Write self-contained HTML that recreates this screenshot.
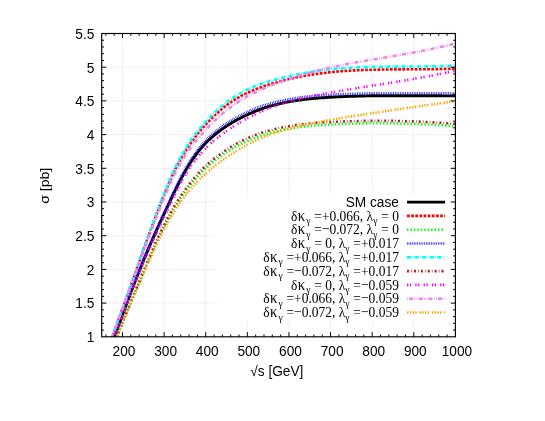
<!DOCTYPE html>
<html><head><meta charset="utf-8"><title>sigma vs sqrt(s)</title>
<style>html,body{margin:0;padding:0;background:#fff}svg{display:block;will-change:transform;filter:blur(0.35px)}text{font-family:"Liberation Sans",sans-serif;font-size:13.7px;fill:#000}.sy{font-family:"Liberation Serif",serif;font-size:13.5px}</style></head><body>
<svg width="545" height="421" viewBox="0 0 545 421">
<rect x="0" y="0" width="545" height="421" fill="#fff"/>
<defs><clipPath id="cp"><rect x="101.7" y="33.5" width="353.7" height="303.3"/></clipPath></defs>
<path d="M122.5,33.5 V336.8 M164.1,33.5 V336.8 M205.7,33.5 V336.8 M247.3,33.5 V336.8 M289.0,33.5 V336.8 M330.6,33.5 V336.8 M372.2,33.5 V336.8 M413.8,33.5 V336.8 M101.7,303.1 H455.4 M101.7,269.4 H455.4 M101.7,235.7 H455.4 M101.7,202.0 H455.4 M101.7,168.3 H455.4 M101.7,134.6 H455.4 M101.7,100.9 H455.4 M101.7,67.2 H455.4" fill="none" stroke="#a8a8a8" stroke-width="0.45" stroke-dasharray="0.69,1.38"/>
<rect x="217.5" y="195.2" width="234" height="124.6" fill="#fff"/>
<g clip-path="url(#cp)" fill="none" stroke-linejoin="round">
<path d="M101.7,373.9 L102.7,371.0 L103.7,368.2 L104.7,365.3 L105.7,362.5 L106.7,359.6 L107.7,356.8 L108.7,353.9 L109.7,351.1 L110.7,348.2 L111.7,345.4 L112.7,342.5 L113.7,339.7 L114.7,336.9 L115.6,334.0 L116.6,331.2 L117.6,328.4 L118.6,325.6 L119.6,322.8 L120.6,320.1 L121.6,317.3 L122.6,314.5 L123.6,311.8 L124.6,309.1 L125.6,306.4 L126.6,303.7 L127.6,301.0 L128.6,298.3 L129.6,295.7 L130.6,293.1 L131.6,290.5 L132.6,287.9 L133.6,285.3 L134.6,282.7 L135.6,280.2 L136.6,277.7 L137.6,275.1 L138.6,272.7 L139.6,270.2 L140.6,267.7 L141.6,265.3 L142.5,262.8 L143.5,260.4 L144.5,258.0 L145.5,255.6 L146.5,253.3 L147.5,250.9 L148.5,248.6 L149.5,246.3 L150.5,244.0 L151.5,241.7 L152.5,239.4 L153.5,237.1 L154.5,234.9 L155.5,232.7 L156.5,230.4 L157.5,228.2 L158.5,226.0 L159.5,223.9 L160.5,221.7 L161.5,219.5 L162.5,217.4 L163.5,215.2 L164.5,213.1 L165.5,211.0 L166.5,208.9 L167.5,206.7 L168.5,204.6 L169.5,202.5 L170.4,200.4 L171.4,198.3 L172.4,196.2 L173.4,194.1 L174.4,192.1 L175.4,190.0 L176.4,188.0 L177.4,186.0 L178.4,184.0 L179.4,182.0 L180.4,180.1 L181.4,178.1 L182.4,176.3 L183.4,174.4 L184.4,172.6 L185.4,170.9 L186.4,169.1 L187.4,167.5 L188.4,165.8 L189.4,164.2 L190.4,162.7 L191.4,161.2 L192.4,159.7 L193.4,158.2 L194.4,156.8 L195.4,155.5 L196.4,154.1 L197.3,152.8 L198.3,151.6 L199.3,150.3 L200.3,149.1 L201.3,147.9 L202.3,146.8 L203.3,145.7 L204.3,144.6 L205.3,143.5 L206.3,142.5 L207.3,141.5 L208.3,140.5 L209.3,139.6 L210.3,138.7 L211.3,137.7 L212.3,136.9 L213.3,136.0 L214.3,135.2 L215.3,134.3 L216.3,133.5 L217.3,132.7 L218.3,132.0 L219.3,131.2 L220.3,130.5 L221.3,129.8 L222.3,129.1 L223.3,128.4 L224.2,127.7 L225.2,127.0 L226.2,126.4 L227.2,125.7 L228.2,125.1 L229.2,124.4 L230.2,123.8 L231.2,123.2 L232.2,122.6 L233.2,122.0 L234.2,121.4 L235.2,120.9 L236.2,120.3 L237.2,119.8 L238.2,119.2 L239.2,118.7 L240.2,118.2 L241.2,117.7 L242.2,117.1 L243.2,116.6 L244.2,116.2 L245.2,115.7 L246.2,115.2 L247.2,114.7 L248.2,114.3 L249.2,113.8 L250.2,113.4 L251.2,113.0 L252.1,112.6 L253.1,112.1 L254.1,111.7 L255.1,111.3 L256.1,110.9 L257.1,110.6 L258.1,110.2 L259.1,109.8 L260.1,109.4 L261.1,109.1 L262.1,108.7 L263.1,108.4 L264.1,108.1 L265.1,107.7 L266.1,107.4 L267.1,107.1 L268.1,106.8 L269.1,106.5 L270.1,106.2 L271.1,105.9 L272.1,105.6 L273.1,105.4 L274.1,105.1 L275.1,104.8 L276.1,104.6 L277.1,104.3 L278.1,104.1 L279.0,103.8 L280.0,103.6 L281.0,103.4 L282.0,103.2 L283.0,102.9 L284.0,102.7 L285.0,102.5 L286.0,102.3 L287.0,102.1 L288.0,101.9 L289.0,101.8 L290.0,101.6 L291.0,101.4 L292.0,101.2 L293.0,101.1 L294.0,100.9 L295.0,100.7 L296.0,100.6 L297.0,100.4 L298.0,100.3 L299.0,100.1 L300.0,100.0 L301.0,99.9 L302.0,99.7 L303.0,99.6 L304.0,99.5 L305.0,99.4 L305.9,99.3 L306.9,99.1 L307.9,99.0 L308.9,98.9 L309.9,98.8 L310.9,98.7 L311.9,98.6 L312.9,98.5 L313.9,98.4 L314.9,98.3 L315.9,98.3 L316.9,98.2 L317.9,98.1 L318.9,98.0 L319.9,97.9 L320.9,97.9 L321.9,97.8 L322.9,97.7 L323.9,97.7 L324.9,97.6 L325.9,97.5 L326.9,97.5 L327.9,97.4 L328.9,97.3 L329.9,97.3 L330.9,97.2 L331.9,97.2 L332.9,97.1 L333.8,97.1 L334.8,97.0 L335.8,97.0 L336.8,96.9 L337.8,96.9 L338.8,96.8 L339.8,96.8 L340.8,96.7 L341.8,96.7 L342.8,96.6 L343.8,96.6 L344.8,96.5 L345.8,96.5 L346.8,96.5 L347.8,96.4 L348.8,96.4 L349.8,96.4 L350.8,96.3 L351.8,96.3 L352.8,96.3 L353.8,96.2 L354.8,96.2 L355.8,96.2 L356.8,96.1 L357.8,96.1 L358.8,96.1 L359.8,96.1 L360.7,96.0 L361.7,96.0 L362.7,96.0 L363.7,96.0 L364.7,96.0 L365.7,95.9 L366.7,95.9 L367.7,95.9 L368.7,95.9 L369.7,95.9 L370.7,95.8 L371.7,95.8 L372.7,95.8 L373.7,95.8 L374.7,95.8 L375.7,95.8 L376.7,95.8 L377.7,95.8 L378.7,95.7 L379.7,95.7 L380.7,95.7 L381.7,95.7 L382.7,95.7 L383.7,95.7 L384.7,95.7 L385.7,95.7 L386.7,95.7 L387.6,95.7 L388.6,95.7 L389.6,95.7 L390.6,95.7 L391.6,95.7 L392.6,95.7 L393.6,95.7 L394.6,95.7 L395.6,95.7 L396.6,95.7 L397.6,95.7 L398.6,95.7 L399.6,95.7 L400.6,95.7 L401.6,95.7 L402.6,95.7 L403.6,95.7 L404.6,95.7 L405.6,95.7 L406.6,95.7 L407.6,95.7 L408.6,95.7 L409.6,95.7 L410.6,95.7 L411.6,95.7 L412.6,95.7 L413.6,95.7 L414.6,95.7 L415.5,95.7 L416.5,95.7 L417.5,95.7 L418.5,95.7 L419.5,95.7 L420.5,95.7 L421.5,95.7 L422.5,95.7 L423.5,95.7 L424.5,95.8 L425.5,95.8 L426.5,95.8 L427.5,95.8 L428.5,95.8 L429.5,95.8 L430.5,95.8 L431.5,95.8 L432.5,95.8 L433.5,95.8 L434.5,95.8 L435.5,95.8 L436.5,95.8 L437.5,95.8 L438.5,95.8 L439.5,95.8 L440.5,95.8 L441.5,95.8 L442.4,95.9 L443.4,95.9 L444.4,95.9 L445.4,95.9 L446.4,95.9 L447.4,95.9 L448.4,95.9 L449.4,95.9 L450.4,95.9 L451.4,95.9 L452.4,95.9 L453.4,95.9 L454.4,95.9 L455.4,95.9" stroke="#000000" stroke-width="2.9"/>
<path d="M101.7,367.0 L102.7,364.0 L103.7,361.1 L104.7,358.2 L105.7,355.3 L106.7,352.5 L107.7,349.6 L108.7,346.8 L109.7,344.0 L110.7,341.2 L111.7,338.4 L112.7,335.7 L113.7,332.9 L114.7,330.1 L115.6,327.4 L116.6,324.7 L117.6,321.9 L118.6,319.2 L119.6,316.5 L120.6,313.7 L121.6,311.0 L122.6,308.3 L123.6,305.5 L124.6,302.8 L125.6,300.0 L126.6,297.2 L127.6,294.5 L128.6,291.7 L129.6,288.9 L130.6,286.1 L131.6,283.3 L132.6,280.5 L133.6,277.7 L134.6,274.9 L135.6,272.1 L136.6,269.3 L137.6,266.5 L138.6,263.7 L139.6,260.9 L140.6,258.1 L141.6,255.3 L142.5,252.5 L143.5,249.7 L144.5,246.9 L145.5,244.2 L146.5,241.4 L147.5,238.6 L148.5,235.9 L149.5,233.1 L150.5,230.4 L151.5,227.7 L152.5,225.0 L153.5,222.3 L154.5,219.6 L155.5,216.9 L156.5,214.3 L157.5,211.7 L158.5,209.0 L159.5,206.5 L160.5,203.9 L161.5,201.4 L162.5,198.8 L163.5,196.3 L164.5,193.9 L165.5,191.5 L166.5,189.1 L167.5,186.7 L168.5,184.4 L169.5,182.1 L170.4,179.8 L171.4,177.6 L172.4,175.4 L173.4,173.3 L174.4,171.2 L175.4,169.2 L176.4,167.2 L177.4,165.2 L178.4,163.3 L179.4,161.5 L180.4,159.7 L181.4,157.9 L182.4,156.2 L183.4,154.5 L184.4,152.8 L185.4,151.2 L186.4,149.6 L187.4,148.1 L188.4,146.5 L189.4,145.1 L190.4,143.6 L191.4,142.2 L192.4,140.8 L193.4,139.4 L194.4,138.1 L195.4,136.8 L196.4,135.5 L197.3,134.3 L198.3,133.0 L199.3,131.8 L200.3,130.6 L201.3,129.5 L202.3,128.3 L203.3,127.2 L204.3,126.1 L205.3,125.0 L206.3,123.9 L207.3,122.9 L208.3,121.8 L209.3,120.8 L210.3,119.8 L211.3,118.8 L212.3,117.8 L213.3,116.8 L214.3,115.8 L215.3,114.9 L216.3,114.0 L217.3,113.1 L218.3,112.2 L219.3,111.3 L220.3,110.4 L221.3,109.6 L222.3,108.7 L223.3,107.9 L224.2,107.1 L225.2,106.4 L226.2,105.6 L227.2,104.8 L228.2,104.1 L229.2,103.4 L230.2,102.7 L231.2,102.0 L232.2,101.3 L233.2,100.7 L234.2,100.0 L235.2,99.4 L236.2,98.8 L237.2,98.2 L238.2,97.6 L239.2,97.1 L240.2,96.5 L241.2,95.9 L242.2,95.4 L243.2,94.9 L244.2,94.4 L245.2,93.9 L246.2,93.4 L247.2,92.9 L248.2,92.5 L249.2,92.0 L250.2,91.5 L251.2,91.1 L252.1,90.7 L253.1,90.3 L254.1,89.9 L255.1,89.5 L256.1,89.1 L257.1,88.7 L258.1,88.3 L259.1,87.9 L260.1,87.6 L261.1,87.2 L262.1,86.9 L263.1,86.5 L264.1,86.2 L265.1,85.8 L266.1,85.5 L267.1,85.2 L268.1,84.9 L269.1,84.6 L270.1,84.2 L271.1,83.9 L272.1,83.6 L273.1,83.3 L274.1,83.0 L275.1,82.7 L276.1,82.5 L277.1,82.2 L278.1,81.9 L279.0,81.6 L280.0,81.4 L281.0,81.1 L282.0,80.8 L283.0,80.6 L284.0,80.3 L285.0,80.1 L286.0,79.8 L287.0,79.6 L288.0,79.3 L289.0,79.1 L290.0,78.9 L291.0,78.6 L292.0,78.4 L293.0,78.2 L294.0,78.0 L295.0,77.8 L296.0,77.6 L297.0,77.3 L298.0,77.1 L299.0,76.9 L300.0,76.8 L301.0,76.6 L302.0,76.4 L303.0,76.2 L304.0,76.0 L305.0,75.8 L305.9,75.6 L306.9,75.5 L307.9,75.3 L308.9,75.1 L309.9,75.0 L310.9,74.8 L311.9,74.6 L312.9,74.5 L313.9,74.3 L314.9,74.2 L315.9,74.0 L316.9,73.9 L317.9,73.8 L318.9,73.6 L319.9,73.5 L320.9,73.4 L321.9,73.2 L322.9,73.1 L323.9,73.0 L324.9,72.9 L325.9,72.8 L326.9,72.6 L327.9,72.5 L328.9,72.4 L329.9,72.3 L330.9,72.2 L331.9,72.1 L332.9,72.0 L333.8,71.9 L334.8,71.8 L335.8,71.7 L336.8,71.6 L337.8,71.5 L338.8,71.5 L339.8,71.4 L340.8,71.3 L341.8,71.2 L342.8,71.1 L343.8,71.1 L344.8,71.0 L345.8,70.9 L346.8,70.9 L347.8,70.8 L348.8,70.7 L349.8,70.7 L350.8,70.6 L351.8,70.6 L352.8,70.5 L353.8,70.4 L354.8,70.4 L355.8,70.3 L356.8,70.3 L357.8,70.2 L358.8,70.2 L359.8,70.2 L360.7,70.1 L361.7,70.1 L362.7,70.0 L363.7,70.0 L364.7,70.0 L365.7,69.9 L366.7,69.9 L367.7,69.9 L368.7,69.8 L369.7,69.8 L370.7,69.8 L371.7,69.8 L372.7,69.7 L373.7,69.7 L374.7,69.7 L375.7,69.7 L376.7,69.6 L377.7,69.6 L378.7,69.6 L379.7,69.6 L380.7,69.6 L381.7,69.5 L382.7,69.5 L383.7,69.5 L384.7,69.5 L385.7,69.5 L386.7,69.5 L387.6,69.5 L388.6,69.5 L389.6,69.4 L390.6,69.4 L391.6,69.4 L392.6,69.4 L393.6,69.4 L394.6,69.4 L395.6,69.4 L396.6,69.4 L397.6,69.4 L398.6,69.4 L399.6,69.4 L400.6,69.4 L401.6,69.4 L402.6,69.4 L403.6,69.4 L404.6,69.3 L405.6,69.3 L406.6,69.3 L407.6,69.3 L408.6,69.3 L409.6,69.3 L410.6,69.3 L411.6,69.3 L412.6,69.3 L413.6,69.3 L414.6,69.3 L415.5,69.3 L416.5,69.3 L417.5,69.3 L418.5,69.3 L419.5,69.3 L420.5,69.3 L421.5,69.3 L422.5,69.3 L423.5,69.2 L424.5,69.2 L425.5,69.2 L426.5,69.2 L427.5,69.2 L428.5,69.2 L429.5,69.2 L430.5,69.2 L431.5,69.2 L432.5,69.1 L433.5,69.1 L434.5,69.1 L435.5,69.1 L436.5,69.1 L437.5,69.1 L438.5,69.0 L439.5,69.0 L440.5,69.0 L441.5,69.0 L442.4,69.0 L443.4,68.9 L444.4,68.9 L445.4,68.9 L446.4,68.8 L447.4,68.8 L448.4,68.8 L449.4,68.8 L450.4,68.7 L451.4,68.7 L452.4,68.6 L453.4,68.6 L454.4,68.6 L455.4,68.5" stroke="#ff0000" stroke-width="2.6" stroke-dasharray="2.76,1.38"/>
<path d="M101.7,378.6 L102.7,375.8 L103.7,372.9 L104.7,370.1 L105.7,367.3 L106.7,364.5 L107.7,361.7 L108.7,358.9 L109.7,356.2 L110.7,353.5 L111.7,350.8 L112.7,348.1 L113.7,345.5 L114.7,342.8 L115.6,340.2 L116.6,337.6 L117.6,335.0 L118.6,332.4 L119.6,329.9 L120.6,327.3 L121.6,324.8 L122.6,322.3 L123.6,319.8 L124.6,317.3 L125.6,314.8 L126.6,312.4 L127.6,309.9 L128.6,307.5 L129.6,305.0 L130.6,302.6 L131.6,300.2 L132.6,297.8 L133.6,295.4 L134.6,293.0 L135.6,290.7 L136.6,288.3 L137.6,285.9 L138.6,283.6 L139.6,281.2 L140.6,278.9 L141.6,276.5 L142.5,274.2 L143.5,271.9 L144.5,269.5 L145.5,267.2 L146.5,264.9 L147.5,262.5 L148.5,260.2 L149.5,257.9 L150.5,255.6 L151.5,253.3 L152.5,251.0 L153.5,248.8 L154.5,246.5 L155.5,244.3 L156.5,242.1 L157.5,239.9 L158.5,237.8 L159.5,235.7 L160.5,233.6 L161.5,231.6 L162.5,229.6 L163.5,227.6 L164.5,225.6 L165.5,223.7 L166.5,221.8 L167.5,220.0 L168.5,218.2 L169.5,216.4 L170.4,214.6 L171.4,212.9 L172.4,211.2 L173.4,209.5 L174.4,207.8 L175.4,206.2 L176.4,204.6 L177.4,203.1 L178.4,201.5 L179.4,200.0 L180.4,198.5 L181.4,197.1 L182.4,195.6 L183.4,194.2 L184.4,192.8 L185.4,191.5 L186.4,190.1 L187.4,188.8 L188.4,187.5 L189.4,186.3 L190.4,185.0 L191.4,183.8 L192.4,182.6 L193.4,181.4 L194.4,180.3 L195.4,179.1 L196.4,178.0 L197.3,176.9 L198.3,175.8 L199.3,174.8 L200.3,173.8 L201.3,172.7 L202.3,171.7 L203.3,170.8 L204.3,169.8 L205.3,168.9 L206.3,167.9 L207.3,167.0 L208.3,166.1 L209.3,165.3 L210.3,164.4 L211.3,163.6 L212.3,162.7 L213.3,161.9 L214.3,161.1 L215.3,160.3 L216.3,159.6 L217.3,158.8 L218.3,158.1 L219.3,157.4 L220.3,156.6 L221.3,155.9 L222.3,155.2 L223.3,154.6 L224.2,153.9 L225.2,153.2 L226.2,152.6 L227.2,151.9 L228.2,151.3 L229.2,150.7 L230.2,150.1 L231.2,149.5 L232.2,148.9 L233.2,148.3 L234.2,147.8 L235.2,147.2 L236.2,146.7 L237.2,146.1 L238.2,145.6 L239.2,145.1 L240.2,144.6 L241.2,144.0 L242.2,143.6 L243.2,143.1 L244.2,142.6 L245.2,142.1 L246.2,141.7 L247.2,141.2 L248.2,140.8 L249.2,140.3 L250.2,139.9 L251.2,139.5 L252.1,139.1 L253.1,138.7 L254.1,138.3 L255.1,137.9 L256.1,137.5 L257.1,137.1 L258.1,136.8 L259.1,136.4 L260.1,136.1 L261.1,135.7 L262.1,135.4 L263.1,135.1 L264.1,134.8 L265.1,134.4 L266.1,134.1 L267.1,133.8 L268.1,133.5 L269.1,133.2 L270.1,133.0 L271.1,132.7 L272.1,132.4 L273.1,132.2 L274.1,131.9 L275.1,131.7 L276.1,131.4 L277.1,131.2 L278.1,130.9 L279.0,130.7 L280.0,130.5 L281.0,130.3 L282.0,130.1 L283.0,129.9 L284.0,129.7 L285.0,129.5 L286.0,129.3 L287.0,129.1 L288.0,128.9 L289.0,128.7 L290.0,128.6 L291.0,128.4 L292.0,128.2 L293.0,128.1 L294.0,127.9 L295.0,127.8 L296.0,127.6 L297.0,127.5 L298.0,127.4 L299.0,127.2 L300.0,127.1 L301.0,127.0 L302.0,126.9 L303.0,126.8 L304.0,126.6 L305.0,126.5 L305.9,126.4 L306.9,126.3 L307.9,126.2 L308.9,126.1 L309.9,126.0 L310.9,125.9 L311.9,125.8 L312.9,125.8 L313.9,125.7 L314.9,125.6 L315.9,125.5 L316.9,125.4 L317.9,125.4 L318.9,125.3 L319.9,125.2 L320.9,125.2 L321.9,125.1 L322.9,125.0 L323.9,125.0 L324.9,124.9 L325.9,124.8 L326.9,124.8 L327.9,124.7 L328.9,124.7 L329.9,124.6 L330.9,124.6 L331.9,124.5 L332.9,124.5 L333.8,124.4 L334.8,124.4 L335.8,124.3 L336.8,124.3 L337.8,124.2 L338.8,124.2 L339.8,124.1 L340.8,124.1 L341.8,124.0 L342.8,124.0 L343.8,124.0 L344.8,123.9 L345.8,123.9 L346.8,123.9 L347.8,123.8 L348.8,123.8 L349.8,123.8 L350.8,123.7 L351.8,123.7 L352.8,123.7 L353.8,123.6 L354.8,123.6 L355.8,123.6 L356.8,123.6 L357.8,123.5 L358.8,123.5 L359.8,123.5 L360.7,123.5 L361.7,123.4 L362.7,123.4 L363.7,123.4 L364.7,123.4 L365.7,123.4 L366.7,123.4 L367.7,123.3 L368.7,123.3 L369.7,123.3 L370.7,123.3 L371.7,123.3 L372.7,123.3 L373.7,123.3 L374.7,123.3 L375.7,123.3 L376.7,123.3 L377.7,123.3 L378.7,123.3 L379.7,123.3 L380.7,123.3 L381.7,123.3 L382.7,123.3 L383.7,123.3 L384.7,123.3 L385.7,123.3 L386.7,123.3 L387.6,123.3 L388.6,123.3 L389.6,123.3 L390.6,123.3 L391.6,123.3 L392.6,123.3 L393.6,123.3 L394.6,123.4 L395.6,123.4 L396.6,123.4 L397.6,123.4 L398.6,123.4 L399.6,123.4 L400.6,123.5 L401.6,123.5 L402.6,123.5 L403.6,123.5 L404.6,123.6 L405.6,123.6 L406.6,123.6 L407.6,123.6 L408.6,123.7 L409.6,123.7 L410.6,123.7 L411.6,123.8 L412.6,123.8 L413.6,123.8 L414.6,123.9 L415.5,123.9 L416.5,124.0 L417.5,124.0 L418.5,124.0 L419.5,124.1 L420.5,124.1 L421.5,124.2 L422.5,124.2 L423.5,124.3 L424.5,124.3 L425.5,124.4 L426.5,124.4 L427.5,124.5 L428.5,124.5 L429.5,124.6 L430.5,124.6 L431.5,124.7 L432.5,124.7 L433.5,124.8 L434.5,124.8 L435.5,124.9 L436.5,125.0 L437.5,125.0 L438.5,125.1 L439.5,125.1 L440.5,125.2 L441.5,125.3 L442.4,125.3 L443.4,125.4 L444.4,125.5 L445.4,125.6 L446.4,125.6 L447.4,125.7 L448.4,125.8 L449.4,125.8 L450.4,125.9 L451.4,126.0 L452.4,126.1 L453.4,126.2 L454.4,126.2 L455.4,126.3" stroke="#00ff00" stroke-width="2.6" stroke-dasharray="1.38,2.07"/>
<path d="M101.7,373.9 L102.7,371.0 L103.7,368.2 L104.7,365.3 L105.7,362.5 L106.7,359.6 L107.7,356.8 L108.7,353.9 L109.7,351.1 L110.7,348.2 L111.7,345.4 L112.7,342.5 L113.7,339.7 L114.7,336.9 L115.6,334.0 L116.6,331.2 L117.6,328.4 L118.6,325.6 L119.6,322.8 L120.6,320.1 L121.6,317.3 L122.6,314.5 L123.6,311.8 L124.6,309.1 L125.6,306.3 L126.6,303.6 L127.6,301.0 L128.6,298.3 L129.6,295.6 L130.6,293.0 L131.6,290.3 L132.6,287.7 L133.6,285.1 L134.6,282.5 L135.6,280.0 L136.6,277.4 L137.6,274.9 L138.6,272.3 L139.6,269.8 L140.6,267.3 L141.6,264.8 L142.5,262.4 L143.5,259.9 L144.5,257.5 L145.5,255.0 L146.5,252.6 L147.5,250.2 L148.5,247.8 L149.5,245.5 L150.5,243.1 L151.5,240.8 L152.5,238.5 L153.5,236.2 L154.5,233.9 L155.5,231.6 L156.5,229.4 L157.5,227.1 L158.5,224.9 L159.5,222.7 L160.5,220.5 L161.5,218.3 L162.5,216.1 L163.5,213.9 L164.5,211.8 L165.5,209.6 L166.5,207.4 L167.5,205.3 L168.5,203.1 L169.5,201.0 L170.4,198.9 L171.4,196.7 L172.4,194.6 L173.4,192.5 L174.4,190.4 L175.4,188.3 L176.4,186.2 L177.4,184.2 L178.4,182.1 L179.4,180.1 L180.4,178.1 L181.4,176.2 L182.4,174.3 L183.4,172.4 L184.4,170.6 L185.4,168.8 L186.4,167.0 L187.4,165.3 L188.4,163.7 L189.4,162.0 L190.4,160.4 L191.4,158.9 L192.4,157.4 L193.4,155.9 L194.4,154.5 L195.4,153.1 L196.4,151.7 L197.3,150.4 L198.3,149.1 L199.3,147.9 L200.3,146.6 L201.3,145.4 L202.3,144.3 L203.3,143.2 L204.3,142.1 L205.3,141.0 L206.3,140.0 L207.3,138.9 L208.3,137.9 L209.3,137.0 L210.3,136.0 L211.3,135.1 L212.3,134.2 L213.3,133.4 L214.3,132.5 L215.3,131.7 L216.3,130.9 L217.3,130.1 L218.3,129.3 L219.3,128.5 L220.3,127.8 L221.3,127.1 L222.3,126.3 L223.3,125.6 L224.2,124.9 L225.2,124.3 L226.2,123.6 L227.2,123.0 L228.2,122.3 L229.2,121.7 L230.2,121.0 L231.2,120.4 L232.2,119.8 L233.2,119.2 L234.2,118.7 L235.2,118.1 L236.2,117.5 L237.2,117.0 L238.2,116.4 L239.2,115.9 L240.2,115.3 L241.2,114.8 L242.2,114.3 L243.2,113.8 L244.2,113.3 L245.2,112.9 L246.2,112.4 L247.2,111.9 L248.2,111.5 L249.2,111.0 L250.2,110.6 L251.2,110.1 L252.1,109.7 L253.1,109.3 L254.1,108.9 L255.1,108.5 L256.1,108.1 L257.1,107.8 L258.1,107.4 L259.1,107.0 L260.1,106.7 L261.1,106.3 L262.1,106.0 L263.1,105.7 L264.1,105.3 L265.1,105.0 L266.1,104.7 L267.1,104.4 L268.1,104.1 L269.1,103.8 L270.1,103.5 L271.1,103.2 L272.1,103.0 L273.1,102.7 L274.1,102.4 L275.1,102.2 L276.1,101.9 L277.1,101.7 L278.1,101.5 L279.0,101.2 L280.0,101.0 L281.0,100.8 L282.0,100.6 L283.0,100.4 L284.0,100.2 L285.0,100.0 L286.0,99.8 L287.0,99.6 L288.0,99.4 L289.0,99.2 L290.0,99.0 L291.0,98.8 L292.0,98.7 L293.0,98.5 L294.0,98.3 L295.0,98.2 L296.0,98.0 L297.0,97.9 L298.0,97.7 L299.0,97.6 L300.0,97.5 L301.0,97.3 L302.0,97.2 L303.0,97.1 L304.0,96.9 L305.0,96.8 L305.9,96.7 L306.9,96.6 L307.9,96.5 L308.9,96.4 L309.9,96.3 L310.9,96.2 L311.9,96.1 L312.9,96.0 L313.9,95.9 L314.9,95.8 L315.9,95.7 L316.9,95.7 L317.9,95.6 L318.9,95.5 L319.9,95.4 L320.9,95.4 L321.9,95.3 L322.9,95.2 L323.9,95.1 L324.9,95.1 L325.9,95.0 L326.9,95.0 L327.9,94.9 L328.9,94.8 L329.9,94.8 L330.9,94.7 L331.9,94.7 L332.9,94.6 L333.8,94.6 L334.8,94.5 L335.8,94.5 L336.8,94.4 L337.8,94.4 L338.8,94.3 L339.8,94.3 L340.8,94.2 L341.8,94.2 L342.8,94.1 L343.8,94.1 L344.8,94.1 L345.8,94.0 L346.8,94.0 L347.8,94.0 L348.8,93.9 L349.8,93.9 L350.8,93.8 L351.8,93.8 L352.8,93.8 L353.8,93.8 L354.8,93.7 L355.8,93.7 L356.8,93.7 L357.8,93.6 L358.8,93.6 L359.8,93.6 L360.7,93.6 L361.7,93.5 L362.7,93.5 L363.7,93.5 L364.7,93.5 L365.7,93.5 L366.7,93.4 L367.7,93.4 L368.7,93.4 L369.7,93.4 L370.7,93.4 L371.7,93.4 L372.7,93.4 L373.7,93.3 L374.7,93.3 L375.7,93.3 L376.7,93.3 L377.7,93.3 L378.7,93.3 L379.7,93.3 L380.7,93.3 L381.7,93.3 L382.7,93.3 L383.7,93.2 L384.7,93.2 L385.7,93.2 L386.7,93.2 L387.6,93.2 L388.6,93.2 L389.6,93.2 L390.6,93.2 L391.6,93.2 L392.6,93.2 L393.6,93.2 L394.6,93.2 L395.6,93.2 L396.6,93.2 L397.6,93.2 L398.6,93.2 L399.6,93.2 L400.6,93.2 L401.6,93.2 L402.6,93.2 L403.6,93.2 L404.6,93.2 L405.6,93.2 L406.6,93.2 L407.6,93.2 L408.6,93.2 L409.6,93.2 L410.6,93.2 L411.6,93.2 L412.6,93.3 L413.6,93.3 L414.6,93.3 L415.5,93.3 L416.5,93.3 L417.5,93.3 L418.5,93.3 L419.5,93.3 L420.5,93.3 L421.5,93.3 L422.5,93.3 L423.5,93.3 L424.5,93.3 L425.5,93.3 L426.5,93.3 L427.5,93.3 L428.5,93.3 L429.5,93.4 L430.5,93.4 L431.5,93.4 L432.5,93.4 L433.5,93.4 L434.5,93.4 L435.5,93.4 L436.5,93.4 L437.5,93.4 L438.5,93.4 L439.5,93.4 L440.5,93.4 L441.5,93.4 L442.4,93.4 L443.4,93.4 L444.4,93.4 L445.4,93.4 L446.4,93.4 L447.4,93.4 L448.4,93.4 L449.4,93.5 L450.4,93.5 L451.4,93.5 L452.4,93.5 L453.4,93.5 L454.4,93.5 L455.4,93.5" stroke="#0000ff" stroke-width="2.6" stroke-dasharray="0.69,1.03"/>
<path d="M101.7,367.0 L102.7,364.0 L103.7,361.1 L104.7,358.2 L105.7,355.3 L106.7,352.5 L107.7,349.6 L108.7,346.8 L109.7,344.0 L110.7,341.2 L111.7,338.4 L112.7,335.7 L113.7,332.9 L114.7,330.1 L115.6,327.4 L116.6,324.7 L117.6,321.9 L118.6,319.2 L119.6,316.5 L120.6,313.7 L121.6,311.0 L122.6,308.3 L123.6,305.5 L124.6,302.7 L125.6,300.0 L126.6,297.2 L127.6,294.4 L128.6,291.6 L129.6,288.8 L130.6,286.0 L131.6,283.2 L132.6,280.3 L133.6,277.5 L134.6,274.7 L135.6,271.8 L136.6,269.0 L137.6,266.2 L138.6,263.3 L139.6,260.5 L140.6,257.6 L141.6,254.8 L142.5,252.0 L143.5,249.1 L144.5,246.3 L145.5,243.5 L146.5,240.7 L147.5,237.8 L148.5,235.0 L149.5,232.3 L150.5,229.5 L151.5,226.7 L152.5,223.9 L153.5,221.2 L154.5,218.5 L155.5,215.7 L156.5,213.1 L157.5,210.4 L158.5,207.7 L159.5,205.1 L160.5,202.5 L161.5,199.9 L162.5,197.3 L163.5,194.8 L164.5,192.3 L165.5,189.9 L166.5,187.4 L167.5,185.0 L168.5,182.6 L169.5,180.3 L170.4,178.0 L171.4,175.8 L172.4,173.6 L173.4,171.4 L174.4,169.3 L175.4,167.2 L176.4,165.2 L177.4,163.2 L178.4,161.2 L179.4,159.3 L180.4,157.5 L181.4,155.7 L182.4,153.9 L183.4,152.2 L184.4,150.5 L185.4,148.8 L186.4,147.2 L187.4,145.6 L188.4,144.0 L189.4,142.5 L190.4,141.0 L191.4,139.6 L192.4,138.2 L193.4,136.8 L194.4,135.4 L195.4,134.1 L196.4,132.8 L197.3,131.5 L198.3,130.2 L199.3,129.0 L200.3,127.8 L201.3,126.6 L202.3,125.4 L203.3,124.3 L204.3,123.2 L205.3,122.1 L206.3,121.0 L207.3,119.9 L208.3,118.8 L209.3,117.8 L210.3,116.8 L211.3,115.7 L212.3,114.7 L213.3,113.8 L214.3,112.8 L215.3,111.8 L216.3,110.9 L217.3,110.0 L218.3,109.1 L219.3,108.2 L220.3,107.3 L221.3,106.5 L222.3,105.6 L223.3,104.8 L224.2,104.0 L225.2,103.2 L226.2,102.4 L227.2,101.7 L228.2,100.9 L229.2,100.2 L230.2,99.5 L231.2,98.8 L232.2,98.1 L233.2,97.5 L234.2,96.8 L235.2,96.2 L236.2,95.6 L237.2,95.0 L238.2,94.4 L239.2,93.8 L240.2,93.3 L241.2,92.7 L242.2,92.2 L243.2,91.6 L244.2,91.1 L245.2,90.6 L246.2,90.1 L247.2,89.7 L248.2,89.2 L249.2,88.7 L250.2,88.3 L251.2,87.9 L252.1,87.4 L253.1,87.0 L254.1,86.6 L255.1,86.2 L256.1,85.8 L257.1,85.5 L258.1,85.1 L259.1,84.7 L260.1,84.4 L261.1,84.0 L262.1,83.7 L263.1,83.3 L264.1,83.0 L265.1,82.7 L266.1,82.4 L267.1,82.1 L268.1,81.8 L269.1,81.4 L270.1,81.1 L271.1,80.9 L272.1,80.6 L273.1,80.3 L274.1,80.0 L275.1,79.7 L276.1,79.4 L277.1,79.2 L278.1,78.9 L279.0,78.6 L280.0,78.4 L281.0,78.1 L282.0,77.9 L283.0,77.6 L284.0,77.4 L285.0,77.1 L286.0,76.9 L287.0,76.6 L288.0,76.4 L289.0,76.2 L290.0,75.9 L291.0,75.7 L292.0,75.5 L293.0,75.3 L294.0,75.0 L295.0,74.8 L296.0,74.6 L297.0,74.4 L298.0,74.2 L299.0,74.0 L300.0,73.8 L301.0,73.6 L302.0,73.4 L303.0,73.3 L304.0,73.1 L305.0,72.9 L305.9,72.7 L306.9,72.6 L307.9,72.4 L308.9,72.2 L309.9,72.1 L310.9,71.9 L311.9,71.7 L312.9,71.6 L313.9,71.4 L314.9,71.3 L315.9,71.2 L316.9,71.0 L317.9,70.9 L318.9,70.7 L319.9,70.6 L320.9,70.5 L321.9,70.3 L322.9,70.2 L323.9,70.1 L324.9,70.0 L325.9,69.9 L326.9,69.8 L327.9,69.6 L328.9,69.5 L329.9,69.4 L330.9,69.3 L331.9,69.2 L332.9,69.1 L333.8,69.0 L334.8,68.9 L335.8,68.9 L336.8,68.8 L337.8,68.7 L338.8,68.6 L339.8,68.5 L340.8,68.4 L341.8,68.4 L342.8,68.3 L343.8,68.2 L344.8,68.1 L345.8,68.1 L346.8,68.0 L347.8,67.9 L348.8,67.9 L349.8,67.8 L350.8,67.8 L351.8,67.7 L352.8,67.7 L353.8,67.6 L354.8,67.6 L355.8,67.5 L356.8,67.5 L357.8,67.4 L358.8,67.4 L359.8,67.3 L360.7,67.3 L361.7,67.2 L362.7,67.2 L363.7,67.2 L364.7,67.1 L365.7,67.1 L366.7,67.1 L367.7,67.0 L368.7,67.0 L369.7,67.0 L370.7,67.0 L371.7,66.9 L372.7,66.9 L373.7,66.9 L374.7,66.9 L375.7,66.8 L376.7,66.8 L377.7,66.8 L378.7,66.8 L379.7,66.8 L380.7,66.7 L381.7,66.7 L382.7,66.7 L383.7,66.7 L384.7,66.7 L385.7,66.7 L386.7,66.7 L387.6,66.7 L388.6,66.6 L389.6,66.6 L390.6,66.6 L391.6,66.6 L392.6,66.6 L393.6,66.6 L394.6,66.6 L395.6,66.6 L396.6,66.6 L397.6,66.6 L398.6,66.6 L399.6,66.6 L400.6,66.6 L401.6,66.6 L402.6,66.6 L403.6,66.5 L404.6,66.5 L405.6,66.5 L406.6,66.5 L407.6,66.5 L408.6,66.5 L409.6,66.5 L410.6,66.5 L411.6,66.5 L412.6,66.5 L413.6,66.5 L414.6,66.5 L415.5,66.5 L416.5,66.5 L417.5,66.5 L418.5,66.5 L419.5,66.5 L420.5,66.5 L421.5,66.5 L422.5,66.5 L423.5,66.4 L424.5,66.4 L425.5,66.4 L426.5,66.4 L427.5,66.4 L428.5,66.4 L429.5,66.4 L430.5,66.4 L431.5,66.4 L432.5,66.3 L433.5,66.3 L434.5,66.3 L435.5,66.3 L436.5,66.3 L437.5,66.3 L438.5,66.2 L439.5,66.2 L440.5,66.2 L441.5,66.2 L442.4,66.2 L443.4,66.1 L444.4,66.1 L445.4,66.1 L446.4,66.1 L447.4,66.0 L448.4,66.0 L449.4,66.0 L450.4,65.9 L451.4,65.9 L452.4,65.9 L453.4,65.8 L454.4,65.8 L455.4,65.7" stroke="#00ffff" stroke-width="2.6" stroke-dasharray="4.14,1.38,0.69,1.38"/>
<path d="M101.7,378.6 L102.7,375.8 L103.7,372.9 L104.7,370.1 L105.7,367.3 L106.7,364.5 L107.7,361.7 L108.7,358.9 L109.7,356.2 L110.7,353.5 L111.7,350.8 L112.7,348.1 L113.7,345.5 L114.7,342.8 L115.6,340.2 L116.6,337.6 L117.6,335.0 L118.6,332.4 L119.6,329.9 L120.6,327.3 L121.6,324.8 L122.6,322.3 L123.6,319.8 L124.6,317.3 L125.6,314.8 L126.6,312.3 L127.6,309.9 L128.6,307.4 L129.6,305.0 L130.6,302.5 L131.6,300.1 L132.6,297.7 L133.6,295.3 L134.6,292.8 L135.6,290.4 L136.6,288.0 L137.6,285.6 L138.6,283.3 L139.6,280.9 L140.6,278.5 L141.6,276.1 L142.5,273.7 L143.5,271.3 L144.5,269.0 L145.5,266.6 L146.5,264.2 L147.5,261.8 L148.5,259.5 L149.5,257.1 L150.5,254.8 L151.5,252.4 L152.5,250.1 L153.5,247.8 L154.5,245.5 L155.5,243.3 L156.5,241.0 L157.5,238.8 L158.5,236.6 L159.5,234.5 L160.5,232.4 L161.5,230.3 L162.5,228.3 L163.5,226.3 L164.5,224.3 L165.5,222.3 L166.5,220.4 L167.5,218.5 L168.5,216.7 L169.5,214.8 L170.4,213.0 L171.4,211.3 L172.4,209.5 L173.4,207.8 L174.4,206.1 L175.4,204.5 L176.4,202.9 L177.4,201.3 L178.4,199.7 L179.4,198.1 L180.4,196.6 L181.4,195.1 L182.4,193.6 L183.4,192.2 L184.4,190.8 L185.4,189.4 L186.4,188.0 L187.4,186.7 L188.4,185.3 L189.4,184.1 L190.4,182.8 L191.4,181.5 L192.4,180.3 L193.4,179.1 L194.4,177.9 L195.4,176.8 L196.4,175.6 L197.3,174.5 L198.3,173.4 L199.3,172.3 L200.3,171.3 L201.3,170.2 L202.3,169.2 L203.3,168.2 L204.3,167.3 L205.3,166.3 L206.3,165.4 L207.3,164.5 L208.3,163.6 L209.3,162.7 L210.3,161.8 L211.3,160.9 L212.3,160.1 L213.3,159.3 L214.3,158.5 L215.3,157.7 L216.3,156.9 L217.3,156.1 L218.3,155.4 L219.3,154.7 L220.3,153.9 L221.3,153.2 L222.3,152.5 L223.3,151.8 L224.2,151.2 L225.2,150.5 L226.2,149.8 L227.2,149.2 L228.2,148.6 L229.2,147.9 L230.2,147.3 L231.2,146.7 L232.2,146.1 L233.2,145.5 L234.2,145.0 L235.2,144.4 L236.2,143.8 L237.2,143.3 L238.2,142.8 L239.2,142.2 L240.2,141.7 L241.2,141.2 L242.2,140.7 L243.2,140.2 L244.2,139.8 L245.2,139.3 L246.2,138.8 L247.2,138.4 L248.2,137.9 L249.2,137.5 L250.2,137.1 L251.2,136.7 L252.1,136.3 L253.1,135.9 L254.1,135.5 L255.1,135.1 L256.1,134.7 L257.1,134.4 L258.1,134.0 L259.1,133.6 L260.1,133.3 L261.1,133.0 L262.1,132.6 L263.1,132.3 L264.1,132.0 L265.1,131.7 L266.1,131.4 L267.1,131.1 L268.1,130.8 L269.1,130.6 L270.1,130.3 L271.1,130.0 L272.1,129.8 L273.1,129.5 L274.1,129.3 L275.1,129.0 L276.1,128.8 L277.1,128.6 L278.1,128.3 L279.0,128.1 L280.0,127.9 L281.0,127.7 L282.0,127.5 L283.0,127.3 L284.0,127.1 L285.0,126.9 L286.0,126.7 L287.0,126.5 L288.0,126.4 L289.0,126.2 L290.0,126.0 L291.0,125.9 L292.0,125.7 L293.0,125.5 L294.0,125.4 L295.0,125.2 L296.0,125.1 L297.0,125.0 L298.0,124.8 L299.0,124.7 L300.0,124.6 L301.0,124.4 L302.0,124.3 L303.0,124.2 L304.0,124.1 L305.0,124.0 L305.9,123.9 L306.9,123.8 L307.9,123.7 L308.9,123.6 L309.9,123.5 L310.9,123.4 L311.9,123.3 L312.9,123.2 L313.9,123.2 L314.9,123.1 L315.9,123.0 L316.9,122.9 L317.9,122.8 L318.9,122.8 L319.9,122.7 L320.9,122.6 L321.9,122.6 L322.9,122.5 L323.9,122.5 L324.9,122.4 L325.9,122.3 L326.9,122.3 L327.9,122.2 L328.9,122.2 L329.9,122.1 L330.9,122.1 L331.9,122.0 L332.9,122.0 L333.8,121.9 L334.8,121.9 L335.8,121.8 L336.8,121.8 L337.8,121.7 L338.8,121.7 L339.8,121.6 L340.8,121.6 L341.8,121.6 L342.8,121.5 L343.8,121.5 L344.8,121.4 L345.8,121.4 L346.8,121.4 L347.8,121.3 L348.8,121.3 L349.8,121.3 L350.8,121.2 L351.8,121.2 L352.8,121.2 L353.8,121.2 L354.8,121.1 L355.8,121.1 L356.8,121.1 L357.8,121.1 L358.8,121.0 L359.8,121.0 L360.7,121.0 L361.7,121.0 L362.7,121.0 L363.7,120.9 L364.7,120.9 L365.7,120.9 L366.7,120.9 L367.7,120.9 L368.7,120.9 L369.7,120.9 L370.7,120.8 L371.7,120.8 L372.7,120.8 L373.7,120.8 L374.7,120.8 L375.7,120.8 L376.7,120.8 L377.7,120.8 L378.7,120.8 L379.7,120.8 L380.7,120.8 L381.7,120.8 L382.7,120.8 L383.7,120.8 L384.7,120.8 L385.7,120.8 L386.7,120.8 L387.6,120.8 L388.6,120.8 L389.6,120.8 L390.6,120.9 L391.6,120.9 L392.6,120.9 L393.6,120.9 L394.6,120.9 L395.6,120.9 L396.6,120.9 L397.6,121.0 L398.6,121.0 L399.6,121.0 L400.6,121.0 L401.6,121.1 L402.6,121.1 L403.6,121.1 L404.6,121.1 L405.6,121.2 L406.6,121.2 L407.6,121.2 L408.6,121.2 L409.6,121.3 L410.6,121.3 L411.6,121.3 L412.6,121.4 L413.6,121.4 L414.6,121.4 L415.5,121.5 L416.5,121.5 L417.5,121.6 L418.5,121.6 L419.5,121.6 L420.5,121.7 L421.5,121.7 L422.5,121.8 L423.5,121.8 L424.5,121.9 L425.5,121.9 L426.5,122.0 L427.5,122.0 L428.5,122.1 L429.5,122.1 L430.5,122.2 L431.5,122.2 L432.5,122.3 L433.5,122.4 L434.5,122.4 L435.5,122.5 L436.5,122.5 L437.5,122.6 L438.5,122.7 L439.5,122.7 L440.5,122.8 L441.5,122.9 L442.4,122.9 L443.4,123.0 L444.4,123.1 L445.4,123.1 L446.4,123.2 L447.4,123.3 L448.4,123.3 L449.4,123.4 L450.4,123.5 L451.4,123.6 L452.4,123.7 L453.4,123.7 L454.4,123.8 L455.4,123.9" stroke="#a52a2a" stroke-width="2.6" stroke-dasharray="2.07,2.07,0.69,2.07"/>
<path d="M101.7,373.9 L102.7,371.0 L103.7,368.2 L104.7,365.3 L105.7,362.5 L106.7,359.6 L107.7,356.8 L108.7,353.9 L109.7,351.1 L110.7,348.2 L111.7,345.4 L112.7,342.5 L113.7,339.7 L114.7,336.9 L115.6,334.0 L116.6,331.2 L117.6,328.5 L118.6,325.7 L119.6,323.0 L120.6,320.2 L121.6,317.5 L122.6,314.8 L123.6,312.2 L124.6,309.5 L125.6,306.9 L126.6,304.3 L127.6,301.7 L128.6,299.1 L129.6,296.6 L130.6,294.0 L131.6,291.5 L132.6,289.0 L133.6,286.5 L134.6,284.1 L135.6,281.6 L136.6,279.2 L137.6,276.8 L138.6,274.3 L139.6,271.9 L140.6,269.6 L141.6,267.2 L142.5,264.8 L143.5,262.5 L144.5,260.1 L145.5,257.8 L146.5,255.5 L147.5,253.2 L148.5,250.9 L149.5,248.6 L150.5,246.4 L151.5,244.1 L152.5,241.9 L153.5,239.7 L154.5,237.5 L155.5,235.3 L156.5,233.1 L157.5,231.0 L158.5,228.8 L159.5,226.7 L160.5,224.6 L161.5,222.4 L162.5,220.3 L163.5,218.2 L164.5,216.2 L165.5,214.1 L166.5,212.0 L167.5,209.9 L168.5,207.9 L169.5,205.8 L170.4,203.8 L171.4,201.7 L172.4,199.7 L173.4,197.6 L174.4,195.6 L175.4,193.6 L176.4,191.6 L177.4,189.7 L178.4,187.7 L179.4,185.8 L180.4,183.9 L181.4,182.0 L182.4,180.2 L183.4,178.4 L184.4,176.7 L185.4,174.9 L186.4,173.3 L187.4,171.7 L188.4,170.1 L189.4,168.5 L190.4,167.0 L191.4,165.6 L192.4,164.2 L193.4,162.8 L194.4,161.5 L195.4,160.2 L196.4,158.9 L197.3,157.7 L198.3,156.5 L199.3,155.3 L200.3,154.2 L201.3,153.1 L202.3,152.0 L203.3,150.9 L204.3,149.8 L205.3,148.8 L206.3,147.8 L207.3,146.8 L208.3,145.8 L209.3,144.8 L210.3,143.9 L211.3,143.0 L212.3,142.1 L213.3,141.2 L214.3,140.4 L215.3,139.5 L216.3,138.7 L217.3,137.9 L218.3,137.1 L219.3,136.4 L220.3,135.6 L221.3,134.9 L222.3,134.1 L223.3,133.4 L224.2,132.7 L225.2,132.0 L226.2,131.3 L227.2,130.7 L228.2,130.0 L229.2,129.3 L230.2,128.7 L231.2,128.0 L232.2,127.4 L233.2,126.7 L234.2,126.0 L235.2,125.4 L236.2,124.8 L237.2,124.1 L238.2,123.5 L239.2,122.9 L240.2,122.3 L241.2,121.7 L242.2,121.1 L243.2,120.5 L244.2,119.9 L245.2,119.4 L246.2,118.8 L247.2,118.3 L248.2,117.7 L249.2,117.2 L250.2,116.7 L251.2,116.2 L252.1,115.7 L253.1,115.2 L254.1,114.7 L255.1,114.2 L256.1,113.8 L257.1,113.3 L258.1,112.8 L259.1,112.4 L260.1,111.9 L261.1,111.5 L262.1,111.1 L263.1,110.7 L264.1,110.2 L265.1,109.8 L266.1,109.4 L267.1,109.0 L268.1,108.6 L269.1,108.3 L270.1,107.9 L271.1,107.5 L272.1,107.1 L273.1,106.8 L274.1,106.4 L275.1,106.1 L276.1,105.7 L277.1,105.4 L278.1,105.1 L279.0,104.8 L280.0,104.4 L281.0,104.1 L282.0,103.8 L283.0,103.5 L284.0,103.2 L285.0,102.9 L286.0,102.6 L287.0,102.3 L288.0,102.0 L289.0,101.7 L290.0,101.5 L291.0,101.2 L292.0,100.9 L293.0,100.7 L294.0,100.4 L295.0,100.1 L296.0,99.9 L297.0,99.6 L298.0,99.4 L299.0,99.1 L300.0,98.9 L301.0,98.6 L302.0,98.4 L303.0,98.1 L304.0,97.9 L305.0,97.7 L305.9,97.4 L306.9,97.2 L307.9,97.0 L308.9,96.8 L309.9,96.6 L310.9,96.3 L311.9,96.1 L312.9,95.9 L313.9,95.7 L314.9,95.5 L315.9,95.3 L316.9,95.1 L317.9,94.9 L318.9,94.7 L319.9,94.5 L320.9,94.3 L321.9,94.1 L322.9,93.9 L323.9,93.7 L324.9,93.6 L325.9,93.4 L326.9,93.2 L327.9,93.0 L328.9,92.8 L329.9,92.6 L330.9,92.5 L331.9,92.3 L332.9,92.1 L333.8,91.9 L334.8,91.8 L335.8,91.6 L336.8,91.4 L337.8,91.3 L338.8,91.1 L339.8,90.9 L340.8,90.7 L341.8,90.6 L342.8,90.4 L343.8,90.2 L344.8,90.1 L345.8,89.9 L346.8,89.8 L347.8,89.6 L348.8,89.4 L349.8,89.3 L350.8,89.1 L351.8,88.9 L352.8,88.8 L353.8,88.6 L354.8,88.5 L355.8,88.3 L356.8,88.1 L357.8,88.0 L358.8,87.8 L359.8,87.7 L360.7,87.5 L361.7,87.4 L362.7,87.2 L363.7,87.0 L364.7,86.9 L365.7,86.7 L366.7,86.6 L367.7,86.4 L368.7,86.3 L369.7,86.1 L370.7,85.9 L371.7,85.8 L372.7,85.6 L373.7,85.5 L374.7,85.3 L375.7,85.2 L376.7,85.0 L377.7,84.8 L378.7,84.7 L379.7,84.5 L380.7,84.4 L381.7,84.2 L382.7,84.0 L383.7,83.9 L384.7,83.7 L385.7,83.6 L386.7,83.4 L387.6,83.2 L388.6,83.1 L389.6,82.9 L390.6,82.7 L391.6,82.6 L392.6,82.4 L393.6,82.3 L394.6,82.1 L395.6,81.9 L396.6,81.8 L397.6,81.6 L398.6,81.4 L399.6,81.3 L400.6,81.1 L401.6,80.9 L402.6,80.8 L403.6,80.6 L404.6,80.4 L405.6,80.3 L406.6,80.1 L407.6,79.9 L408.6,79.7 L409.6,79.6 L410.6,79.4 L411.6,79.2 L412.6,79.1 L413.6,78.9 L414.6,78.7 L415.5,78.5 L416.5,78.4 L417.5,78.2 L418.5,78.0 L419.5,77.8 L420.5,77.7 L421.5,77.5 L422.5,77.3 L423.5,77.1 L424.5,76.9 L425.5,76.7 L426.5,76.6 L427.5,76.4 L428.5,76.2 L429.5,76.0 L430.5,75.8 L431.5,75.6 L432.5,75.4 L433.5,75.2 L434.5,75.0 L435.5,74.9 L436.5,74.7 L437.5,74.5 L438.5,74.3 L439.5,74.1 L440.5,73.9 L441.5,73.7 L442.4,73.5 L443.4,73.3 L444.4,73.1 L445.4,72.9 L446.4,72.6 L447.4,72.4 L448.4,72.2 L449.4,72.0 L450.4,71.8 L451.4,71.6 L452.4,71.4 L453.4,71.2 L454.4,71.0 L455.4,70.8" stroke="#ff00ff" stroke-width="2.6" stroke-dasharray="1.38,1.38,1.38,4.14"/>
<path d="M101.7,367.0 L102.7,364.0 L103.7,361.1 L104.7,358.2 L105.7,355.3 L106.7,352.5 L107.7,349.6 L108.7,346.8 L109.7,344.0 L110.7,341.2 L111.7,338.4 L112.7,335.7 L113.7,332.9 L114.7,330.2 L115.6,327.4 L116.6,324.7 L117.6,322.0 L118.6,319.3 L119.6,316.6 L120.6,313.9 L121.6,311.2 L122.6,308.6 L123.6,305.9 L124.6,303.2 L125.6,300.5 L126.6,297.8 L127.6,295.2 L128.6,292.5 L129.6,289.8 L130.6,287.1 L131.6,284.4 L132.6,281.7 L133.6,279.0 L134.6,276.3 L135.6,273.5 L136.6,270.8 L137.6,268.1 L138.6,265.4 L139.6,262.7 L140.6,259.9 L141.6,257.2 L142.5,254.5 L143.5,251.8 L144.5,249.0 L145.5,246.3 L146.5,243.6 L147.5,240.9 L148.5,238.2 L149.5,235.5 L150.5,232.8 L151.5,230.1 L152.5,227.5 L153.5,224.8 L154.5,222.2 L155.5,219.6 L156.5,217.0 L157.5,214.4 L158.5,211.8 L159.5,209.3 L160.5,206.8 L161.5,204.3 L162.5,201.8 L163.5,199.3 L164.5,196.9 L165.5,194.6 L166.5,192.2 L167.5,189.9 L168.5,187.6 L169.5,185.4 L170.4,183.2 L171.4,181.0 L172.4,178.9 L173.4,176.8 L174.4,174.7 L175.4,172.8 L176.4,170.8 L177.4,168.9 L178.4,167.1 L179.4,165.3 L180.4,163.5 L181.4,161.8 L182.4,160.1 L183.4,158.5 L184.4,156.8 L185.4,155.3 L186.4,153.7 L187.4,152.3 L188.4,150.8 L189.4,149.4 L190.4,148.0 L191.4,146.6 L192.4,145.3 L193.4,144.0 L194.4,142.7 L195.4,141.5 L196.4,140.3 L197.3,139.1 L198.3,138.0 L199.3,136.8 L200.3,135.7 L201.3,134.6 L202.3,133.5 L203.3,132.4 L204.3,131.3 L205.3,130.3 L206.3,129.2 L207.3,128.1 L208.3,127.1 L209.3,126.0 L210.3,125.0 L211.3,124.0 L212.3,123.0 L213.3,122.0 L214.3,121.0 L215.3,120.1 L216.3,119.1 L217.3,118.2 L218.3,117.3 L219.3,116.4 L220.3,115.5 L221.3,114.7 L222.3,113.8 L223.3,113.0 L224.2,112.2 L225.2,111.4 L226.2,110.6 L227.2,109.8 L228.2,109.0 L229.2,108.3 L230.2,107.5 L231.2,106.8 L232.2,106.1 L233.2,105.4 L234.2,104.6 L235.2,103.9 L236.2,103.3 L237.2,102.6 L238.2,101.9 L239.2,101.2 L240.2,100.6 L241.2,100.0 L242.2,99.3 L243.2,98.7 L244.2,98.1 L245.2,97.6 L246.2,97.0 L247.2,96.4 L248.2,95.9 L249.2,95.4 L250.2,94.8 L251.2,94.3 L252.1,93.8 L253.1,93.3 L254.1,92.8 L255.1,92.4 L256.1,91.9 L257.1,91.4 L258.1,91.0 L259.1,90.5 L260.1,90.1 L261.1,89.6 L262.1,89.2 L263.1,88.8 L264.1,88.3 L265.1,87.9 L266.1,87.5 L267.1,87.1 L268.1,86.7 L269.1,86.3 L270.1,85.9 L271.1,85.5 L272.1,85.1 L273.1,84.8 L274.1,84.4 L275.1,84.0 L276.1,83.6 L277.1,83.3 L278.1,82.9 L279.0,82.5 L280.0,82.2 L281.0,81.8 L282.0,81.5 L283.0,81.1 L284.0,80.8 L285.0,80.4 L286.0,80.1 L287.0,79.8 L288.0,79.4 L289.0,79.1 L290.0,78.8 L291.0,78.4 L292.0,78.1 L293.0,77.8 L294.0,77.5 L295.0,77.2 L296.0,76.8 L297.0,76.5 L298.0,76.2 L299.0,75.9 L300.0,75.6 L301.0,75.3 L302.0,75.0 L303.0,74.7 L304.0,74.4 L305.0,74.1 L305.9,73.8 L306.9,73.5 L307.9,73.3 L308.9,73.0 L309.9,72.7 L310.9,72.4 L311.9,72.2 L312.9,71.9 L313.9,71.6 L314.9,71.4 L315.9,71.1 L316.9,70.8 L317.9,70.6 L318.9,70.3 L319.9,70.1 L320.9,69.8 L321.9,69.6 L322.9,69.3 L323.9,69.1 L324.9,68.8 L325.9,68.6 L326.9,68.4 L327.9,68.1 L328.9,67.9 L329.9,67.7 L330.9,67.5 L331.9,67.2 L332.9,67.0 L333.8,66.8 L334.8,66.6 L335.8,66.4 L336.8,66.2 L337.8,65.9 L338.8,65.7 L339.8,65.5 L340.8,65.3 L341.8,65.1 L342.8,64.9 L343.8,64.7 L344.8,64.5 L345.8,64.3 L346.8,64.1 L347.8,64.0 L348.8,63.8 L349.8,63.6 L350.8,63.4 L351.8,63.2 L352.8,63.0 L353.8,62.8 L354.8,62.7 L355.8,62.5 L356.8,62.3 L357.8,62.1 L358.8,61.9 L359.8,61.8 L360.7,61.6 L361.7,61.4 L362.7,61.2 L363.7,61.1 L364.7,60.9 L365.7,60.7 L366.7,60.6 L367.7,60.4 L368.7,60.2 L369.7,60.0 L370.7,59.9 L371.7,59.7 L372.7,59.5 L373.7,59.4 L374.7,59.2 L375.7,59.0 L376.7,58.9 L377.7,58.7 L378.7,58.5 L379.7,58.4 L380.7,58.2 L381.7,58.0 L382.7,57.9 L383.7,57.7 L384.7,57.5 L385.7,57.4 L386.7,57.2 L387.6,57.0 L388.6,56.9 L389.6,56.7 L390.6,56.5 L391.6,56.3 L392.6,56.2 L393.6,56.0 L394.6,55.8 L395.6,55.7 L396.6,55.5 L397.6,55.3 L398.6,55.2 L399.6,55.0 L400.6,54.8 L401.6,54.6 L402.6,54.5 L403.6,54.3 L404.6,54.1 L405.6,53.9 L406.6,53.8 L407.6,53.6 L408.6,53.4 L409.6,53.2 L410.6,53.0 L411.6,52.9 L412.6,52.7 L413.6,52.5 L414.6,52.3 L415.5,52.1 L416.5,51.9 L417.5,51.8 L418.5,51.6 L419.5,51.4 L420.5,51.2 L421.5,51.0 L422.5,50.8 L423.5,50.6 L424.5,50.4 L425.5,50.2 L426.5,50.0 L427.5,49.8 L428.5,49.6 L429.5,49.4 L430.5,49.2 L431.5,49.0 L432.5,48.8 L433.5,48.6 L434.5,48.3 L435.5,48.1 L436.5,47.9 L437.5,47.7 L438.5,47.5 L439.5,47.2 L440.5,47.0 L441.5,46.8 L442.4,46.6 L443.4,46.3 L444.4,46.1 L445.4,45.9 L446.4,45.6 L447.4,45.4 L448.4,45.1 L449.4,44.9 L450.4,44.7 L451.4,44.4 L452.4,44.2 L453.4,43.9 L454.4,43.6 L455.4,43.4" stroke="#ee82ee" stroke-width="2.6" stroke-dasharray="0.69,1.38,4.14,1.38,0.69,1.38"/>
<path d="M101.7,378.6 L102.7,375.8 L103.7,372.9 L104.7,370.1 L105.7,367.3 L106.7,364.5 L107.7,361.7 L108.7,358.9 L109.7,356.2 L110.7,353.5 L111.7,350.8 L112.7,348.1 L113.7,345.5 L114.7,342.8 L115.6,340.2 L116.6,337.6 L117.6,335.1 L118.6,332.5 L119.6,330.0 L120.6,327.5 L121.6,325.0 L122.6,322.6 L123.6,320.2 L124.6,317.8 L125.6,315.4 L126.6,313.0 L127.6,310.6 L128.6,308.3 L129.6,305.9 L130.6,303.6 L131.6,301.3 L132.6,299.0 L133.6,296.7 L134.6,294.4 L135.6,292.1 L136.6,289.8 L137.6,287.6 L138.6,285.3 L139.6,283.0 L140.6,280.7 L141.6,278.5 L142.5,276.2 L143.5,273.9 L144.5,271.6 L145.5,269.3 L146.5,267.1 L147.5,264.8 L148.5,262.5 L149.5,260.2 L150.5,258.0 L151.5,255.7 L152.5,253.5 L153.5,251.3 L154.5,249.1 L155.5,246.9 L156.5,244.8 L157.5,242.7 L158.5,240.6 L159.5,238.5 L160.5,236.5 L161.5,234.5 L162.5,232.5 L163.5,230.6 L164.5,228.7 L165.5,226.8 L166.5,225.0 L167.5,223.2 L168.5,221.4 L169.5,219.7 L170.4,217.9 L171.4,216.3 L172.4,214.6 L173.4,213.0 L174.4,211.4 L175.4,209.8 L176.4,208.3 L177.4,206.7 L178.4,205.3 L179.4,203.8 L180.4,202.4 L181.4,200.9 L182.4,199.6 L183.4,198.2 L184.4,196.9 L185.4,195.6 L186.4,194.3 L187.4,193.0 L188.4,191.8 L189.4,190.6 L190.4,189.4 L191.4,188.2 L192.4,187.1 L193.4,186.0 L194.4,184.9 L195.4,183.8 L196.4,182.8 L197.3,181.8 L198.3,180.8 L199.3,179.8 L200.3,178.8 L201.3,177.9 L202.3,176.9 L203.3,176.0 L204.3,175.0 L205.3,174.1 L206.3,173.2 L207.3,172.3 L208.3,171.4 L209.3,170.5 L210.3,169.6 L211.3,168.8 L212.3,168.0 L213.3,167.1 L214.3,166.3 L215.3,165.5 L216.3,164.8 L217.3,164.0 L218.3,163.2 L219.3,162.5 L220.3,161.7 L221.3,161.0 L222.3,160.3 L223.3,159.6 L224.2,158.9 L225.2,158.2 L226.2,157.6 L227.2,156.9 L228.2,156.3 L229.2,155.6 L230.2,154.9 L231.2,154.3 L232.2,153.6 L233.2,153.0 L234.2,152.4 L235.2,151.7 L236.2,151.1 L237.2,150.5 L238.2,149.9 L239.2,149.3 L240.2,148.7 L241.2,148.1 L242.2,147.5 L243.2,146.9 L244.2,146.4 L245.2,145.8 L246.2,145.3 L247.2,144.7 L248.2,144.2 L249.2,143.7 L250.2,143.2 L251.2,142.7 L252.1,142.2 L253.1,141.7 L254.1,141.3 L255.1,140.8 L256.1,140.3 L257.1,139.9 L258.1,139.4 L259.1,139.0 L260.1,138.6 L261.1,138.2 L262.1,137.7 L263.1,137.3 L264.1,136.9 L265.1,136.5 L266.1,136.1 L267.1,135.8 L268.1,135.4 L269.1,135.0 L270.1,134.6 L271.1,134.3 L272.1,133.9 L273.1,133.6 L274.1,133.2 L275.1,132.9 L276.1,132.6 L277.1,132.3 L278.1,131.9 L279.0,131.6 L280.0,131.3 L281.0,131.0 L282.0,130.7 L283.0,130.4 L284.0,130.1 L285.0,129.8 L286.0,129.6 L287.0,129.3 L288.0,129.0 L289.0,128.7 L290.0,128.5 L291.0,128.2 L292.0,127.9 L293.0,127.7 L294.0,127.4 L295.0,127.2 L296.0,126.9 L297.0,126.7 L298.0,126.4 L299.0,126.2 L300.0,126.0 L301.0,125.7 L302.0,125.5 L303.0,125.3 L304.0,125.1 L305.0,124.8 L305.9,124.6 L306.9,124.4 L307.9,124.2 L308.9,124.0 L309.9,123.8 L310.9,123.6 L311.9,123.4 L312.9,123.2 L313.9,122.9 L314.9,122.8 L315.9,122.6 L316.9,122.4 L317.9,122.2 L318.9,122.0 L319.9,121.8 L320.9,121.6 L321.9,121.4 L322.9,121.2 L323.9,121.0 L324.9,120.9 L325.9,120.7 L326.9,120.5 L327.9,120.3 L328.9,120.2 L329.9,120.0 L330.9,119.8 L331.9,119.6 L332.9,119.5 L333.8,119.3 L334.8,119.1 L335.8,119.0 L336.8,118.8 L337.8,118.6 L338.8,118.5 L339.8,118.3 L340.8,118.1 L341.8,118.0 L342.8,117.8 L343.8,117.6 L344.8,117.5 L345.8,117.3 L346.8,117.1 L347.8,117.0 L348.8,116.8 L349.8,116.7 L350.8,116.5 L351.8,116.3 L352.8,116.2 L353.8,116.0 L354.8,115.9 L355.8,115.7 L356.8,115.6 L357.8,115.4 L358.8,115.2 L359.8,115.1 L360.7,114.9 L361.7,114.8 L362.7,114.6 L363.7,114.5 L364.7,114.3 L365.7,114.2 L366.7,114.0 L367.7,113.9 L368.7,113.7 L369.7,113.6 L370.7,113.4 L371.7,113.2 L372.7,113.1 L373.7,112.9 L374.7,112.8 L375.7,112.6 L376.7,112.5 L377.7,112.3 L378.7,112.2 L379.7,112.0 L380.7,111.9 L381.7,111.7 L382.7,111.6 L383.7,111.4 L384.7,111.3 L385.7,111.1 L386.7,111.0 L387.6,110.8 L388.6,110.7 L389.6,110.5 L390.6,110.4 L391.6,110.2 L392.6,110.1 L393.6,109.9 L394.6,109.8 L395.6,109.6 L396.6,109.5 L397.6,109.3 L398.6,109.2 L399.6,109.1 L400.6,108.9 L401.6,108.8 L402.6,108.6 L403.6,108.5 L404.6,108.3 L405.6,108.2 L406.6,108.0 L407.6,107.9 L408.6,107.8 L409.6,107.6 L410.6,107.5 L411.6,107.3 L412.6,107.2 L413.6,107.0 L414.6,106.9 L415.5,106.8 L416.5,106.6 L417.5,106.5 L418.5,106.3 L419.5,106.2 L420.5,106.0 L421.5,105.9 L422.5,105.8 L423.5,105.6 L424.5,105.5 L425.5,105.3 L426.5,105.2 L427.5,105.1 L428.5,104.9 L429.5,104.8 L430.5,104.6 L431.5,104.5 L432.5,104.4 L433.5,104.2 L434.5,104.1 L435.5,103.9 L436.5,103.8 L437.5,103.7 L438.5,103.5 L439.5,103.4 L440.5,103.2 L441.5,103.1 L442.4,103.0 L443.4,102.8 L444.4,102.7 L445.4,102.5 L446.4,102.4 L447.4,102.3 L448.4,102.1 L449.4,102.0 L450.4,101.9 L451.4,101.7 L452.4,101.6 L453.4,101.5 L454.4,101.3 L455.4,101.2" stroke="#ffa500" stroke-width="2.6" stroke-dasharray="1.38,1.38,1.38,1.38,1.38,1.38,1.38,2.76"/>
</g>
<path d="M105.86,336.8 v-2.3 M105.86,33.5 v2.3 M114.18,336.8 v-2.3 M114.18,33.5 v2.3 M122.51,336.8 v-4.6 M122.51,33.5 v4.6 M130.83,336.8 v-2.3 M130.83,33.5 v2.3 M139.15,336.8 v-2.3 M139.15,33.5 v2.3 M147.47,336.8 v-2.3 M147.47,33.5 v2.3 M155.80,336.8 v-2.3 M155.80,33.5 v2.3 M164.12,336.8 v-4.6 M164.12,33.5 v4.6 M172.44,336.8 v-2.3 M172.44,33.5 v2.3 M180.76,336.8 v-2.3 M180.76,33.5 v2.3 M189.08,336.8 v-2.3 M189.08,33.5 v2.3 M197.41,336.8 v-2.3 M197.41,33.5 v2.3 M205.73,336.8 v-4.6 M205.73,33.5 v4.6 M214.05,336.8 v-2.3 M214.05,33.5 v2.3 M222.37,336.8 v-2.3 M222.37,33.5 v2.3 M230.70,336.8 v-2.3 M230.70,33.5 v2.3 M239.02,336.8 v-2.3 M239.02,33.5 v2.3 M247.34,336.8 v-4.6 M247.34,33.5 v4.6 M255.66,336.8 v-2.3 M255.66,33.5 v2.3 M263.99,336.8 v-2.3 M263.99,33.5 v2.3 M272.31,336.8 v-2.3 M272.31,33.5 v2.3 M280.63,336.8 v-2.3 M280.63,33.5 v2.3 M288.95,336.8 v-4.6 M288.95,33.5 v4.6 M297.28,336.8 v-2.3 M297.28,33.5 v2.3 M305.60,336.8 v-2.3 M305.60,33.5 v2.3 M313.92,336.8 v-2.3 M313.92,33.5 v2.3 M322.24,336.8 v-2.3 M322.24,33.5 v2.3 M330.56,336.8 v-4.6 M330.56,33.5 v4.6 M338.89,336.8 v-2.3 M338.89,33.5 v2.3 M347.21,336.8 v-2.3 M347.21,33.5 v2.3 M355.53,336.8 v-2.3 M355.53,33.5 v2.3 M363.85,336.8 v-2.3 M363.85,33.5 v2.3 M372.18,336.8 v-4.6 M372.18,33.5 v4.6 M380.50,336.8 v-2.3 M380.50,33.5 v2.3 M388.82,336.8 v-2.3 M388.82,33.5 v2.3 M397.14,336.8 v-2.3 M397.14,33.5 v2.3 M405.47,336.8 v-2.3 M405.47,33.5 v2.3 M413.79,336.8 v-4.6 M413.79,33.5 v4.6 M422.11,336.8 v-2.3 M422.11,33.5 v2.3 M430.43,336.8 v-2.3 M430.43,33.5 v2.3 M438.76,336.8 v-2.3 M438.76,33.5 v2.3 M447.08,336.8 v-2.3 M447.08,33.5 v2.3 M101.7,330.06 h2.3 M455.4,330.06 h-2.3 M101.7,323.32 h2.3 M455.4,323.32 h-2.3 M101.7,316.58 h2.3 M455.4,316.58 h-2.3 M101.7,309.84 h2.3 M455.4,309.84 h-2.3 M101.7,303.10 h4.6 M455.4,303.10 h-4.6 M101.7,296.36 h2.3 M455.4,296.36 h-2.3 M101.7,289.62 h2.3 M455.4,289.62 h-2.3 M101.7,282.88 h2.3 M455.4,282.88 h-2.3 M101.7,276.14 h2.3 M455.4,276.14 h-2.3 M101.7,269.40 h4.6 M455.4,269.40 h-4.6 M101.7,262.66 h2.3 M455.4,262.66 h-2.3 M101.7,255.92 h2.3 M455.4,255.92 h-2.3 M101.7,249.18 h2.3 M455.4,249.18 h-2.3 M101.7,242.44 h2.3 M455.4,242.44 h-2.3 M101.7,235.70 h4.6 M455.4,235.70 h-4.6 M101.7,228.96 h2.3 M455.4,228.96 h-2.3 M101.7,222.22 h2.3 M455.4,222.22 h-2.3 M101.7,215.48 h2.3 M455.4,215.48 h-2.3 M101.7,208.74 h2.3 M455.4,208.74 h-2.3 M101.7,202.00 h4.6 M455.4,202.00 h-4.6 M101.7,195.26 h2.3 M455.4,195.26 h-2.3 M101.7,188.52 h2.3 M455.4,188.52 h-2.3 M101.7,181.78 h2.3 M455.4,181.78 h-2.3 M101.7,175.04 h2.3 M455.4,175.04 h-2.3 M101.7,168.30 h4.6 M455.4,168.30 h-4.6 M101.7,161.56 h2.3 M455.4,161.56 h-2.3 M101.7,154.82 h2.3 M455.4,154.82 h-2.3 M101.7,148.08 h2.3 M455.4,148.08 h-2.3 M101.7,141.34 h2.3 M455.4,141.34 h-2.3 M101.7,134.60 h4.6 M455.4,134.60 h-4.6 M101.7,127.86 h2.3 M455.4,127.86 h-2.3 M101.7,121.12 h2.3 M455.4,121.12 h-2.3 M101.7,114.38 h2.3 M455.4,114.38 h-2.3 M101.7,107.64 h2.3 M455.4,107.64 h-2.3 M101.7,100.90 h4.6 M455.4,100.90 h-4.6 M101.7,94.16 h2.3 M455.4,94.16 h-2.3 M101.7,87.42 h2.3 M455.4,87.42 h-2.3 M101.7,80.68 h2.3 M455.4,80.68 h-2.3 M101.7,73.94 h2.3 M455.4,73.94 h-2.3 M101.7,67.20 h4.6 M455.4,67.20 h-4.6 M101.7,60.46 h2.3 M455.4,60.46 h-2.3 M101.7,53.72 h2.3 M455.4,53.72 h-2.3 M101.7,46.98 h2.3 M455.4,46.98 h-2.3 M101.7,40.24 h2.3 M455.4,40.24 h-2.3" fill="none" stroke="#000" stroke-width="1"/>
<rect x="101.7" y="33.5" width="353.7" height="303.3" fill="none" stroke="#000" stroke-width="1.15"/>
<text transform="translate(124.0,356.3) scale(1,1.100)" text-anchor="middle">200</text>
<text transform="translate(165.6,356.3) scale(1,1.100)" text-anchor="middle">300</text>
<text transform="translate(207.2,356.3) scale(1,1.100)" text-anchor="middle">400</text>
<text transform="translate(248.8,356.3) scale(1,1.100)" text-anchor="middle">500</text>
<text transform="translate(290.5,356.3) scale(1,1.100)" text-anchor="middle">600</text>
<text transform="translate(332.1,356.3) scale(1,1.100)" text-anchor="middle">700</text>
<text transform="translate(373.7,356.3) scale(1,1.100)" text-anchor="middle">800</text>
<text transform="translate(415.3,356.3) scale(1,1.100)" text-anchor="middle">900</text>
<text transform="translate(456.9,356.3) scale(1,1.100)" text-anchor="middle">1000</text>
<text transform="translate(94.4,342.1) scale(1,1.100)" text-anchor="end">1</text>
<text transform="translate(94.4,308.4) scale(1,1.100)" text-anchor="end">1.5</text>
<text transform="translate(94.4,274.7) scale(1,1.100)" text-anchor="end">2</text>
<text transform="translate(94.4,241.0) scale(1,1.100)" text-anchor="end">2.5</text>
<text transform="translate(94.4,207.3) scale(1,1.100)" text-anchor="end">3</text>
<text transform="translate(94.4,173.6) scale(1,1.100)" text-anchor="end">3.5</text>
<text transform="translate(94.4,139.9) scale(1,1.100)" text-anchor="end">4</text>
<text transform="translate(94.4,106.2) scale(1,1.100)" text-anchor="end">4.5</text>
<text transform="translate(94.4,72.5) scale(1,1.100)" text-anchor="end">5</text>
<text transform="translate(94.4,38.8) scale(1,1.100)" text-anchor="end">5.5</text>
<text transform="translate(276.8,376.0) scale(1,1.060)" text-anchor="middle">&#8730;s [GeV]</text>
<text transform="translate(49.3,185.8) rotate(-90) scale(1.03,1)" text-anchor="middle">&#963; [pb]</text>
<path d="M407.0,202.1 H445.1" fill="none" stroke="#000000" stroke-width="2.8"/>
<text transform="translate(398.9,207.0) scale(1,1.100)" text-anchor="end">SM case</text>
<path d="M407.0,215.9 H445.1" fill="none" stroke="#ff0000" stroke-width="2.6" stroke-dasharray="2.76,1.38"/>
<text class="sy" transform="translate(398.9,220.6) scale(1,1.140)" text-anchor="end"><tspan letter-spacing="0.5">&#948;</tspan><tspan font-size="14.8px" letter-spacing="0.9">&#954;</tspan><tspan dy="3.0" font-size="9.6px" letter-spacing="0.4">&#947;</tspan><tspan dy="-3.0"> </tspan>=+0.066, &#955;<tspan dy="3.0" font-size="9.6px" letter-spacing="0.4">&#947;</tspan><tspan dy="-3.0"> </tspan>= 0</text>
<path d="M407.0,229.7 H445.1" fill="none" stroke="#00ff00" stroke-width="2.6" stroke-dasharray="1.38,2.07"/>
<text class="sy" transform="translate(398.9,234.4) scale(1,1.140)" text-anchor="end"><tspan letter-spacing="0.5">&#948;</tspan><tspan font-size="14.8px" letter-spacing="0.9">&#954;</tspan><tspan dy="3.0" font-size="9.6px" letter-spacing="0.4">&#947;</tspan><tspan dy="-3.0"> </tspan>=−0.072, &#955;<tspan dy="3.0" font-size="9.6px" letter-spacing="0.4">&#947;</tspan><tspan dy="-3.0"> </tspan>= 0</text>
<path d="M407.0,243.5 H445.1" fill="none" stroke="#0000ff" stroke-width="2.6" stroke-dasharray="0.69,1.03"/>
<text class="sy" transform="translate(398.9,248.2) scale(1,1.140)" text-anchor="end"><tspan letter-spacing="0.5">&#948;</tspan><tspan font-size="14.8px" letter-spacing="0.9">&#954;</tspan><tspan dy="3.0" font-size="9.6px" letter-spacing="0.4">&#947;</tspan><tspan dy="-3.0"> </tspan>= 0, &#955;<tspan dy="3.0" font-size="9.6px" letter-spacing="0.4">&#947;</tspan><tspan dy="-3.0"> </tspan>=+0.017</text>
<path d="M407.0,257.3 H445.1" fill="none" stroke="#00ffff" stroke-width="2.6" stroke-dasharray="4.14,1.38,0.69,1.38"/>
<text class="sy" transform="translate(398.9,262.0) scale(1,1.140)" text-anchor="end"><tspan letter-spacing="0.5">&#948;</tspan><tspan font-size="14.8px" letter-spacing="0.9">&#954;</tspan><tspan dy="3.0" font-size="9.6px" letter-spacing="0.4">&#947;</tspan><tspan dy="-3.0"> </tspan>=+0.066, &#955;<tspan dy="3.0" font-size="9.6px" letter-spacing="0.4">&#947;</tspan><tspan dy="-3.0"> </tspan>=+0.017</text>
<path d="M407.0,271.1 H445.1" fill="none" stroke="#a52a2a" stroke-width="2.6" stroke-dasharray="2.07,2.07,0.69,2.07"/>
<text class="sy" transform="translate(398.9,275.8) scale(1,1.140)" text-anchor="end"><tspan letter-spacing="0.5">&#948;</tspan><tspan font-size="14.8px" letter-spacing="0.9">&#954;</tspan><tspan dy="3.0" font-size="9.6px" letter-spacing="0.4">&#947;</tspan><tspan dy="-3.0"> </tspan>=−0.072, &#955;<tspan dy="3.0" font-size="9.6px" letter-spacing="0.4">&#947;</tspan><tspan dy="-3.0"> </tspan>=+0.017</text>
<path d="M407.0,284.9 H445.1" fill="none" stroke="#ff00ff" stroke-width="2.6" stroke-dasharray="1.38,1.38,1.38,4.14"/>
<text class="sy" transform="translate(398.9,289.6) scale(1,1.140)" text-anchor="end"><tspan letter-spacing="0.5">&#948;</tspan><tspan font-size="14.8px" letter-spacing="0.9">&#954;</tspan><tspan dy="3.0" font-size="9.6px" letter-spacing="0.4">&#947;</tspan><tspan dy="-3.0"> </tspan>= 0, &#955;<tspan dy="3.0" font-size="9.6px" letter-spacing="0.4">&#947;</tspan><tspan dy="-3.0"> </tspan>=−0.059</text>
<path d="M407.0,298.7 H445.1" fill="none" stroke="#ee82ee" stroke-width="2.6" stroke-dasharray="0.69,1.38,4.14,1.38,0.69,1.38"/>
<text class="sy" transform="translate(398.9,303.4) scale(1,1.140)" text-anchor="end"><tspan letter-spacing="0.5">&#948;</tspan><tspan font-size="14.8px" letter-spacing="0.9">&#954;</tspan><tspan dy="3.0" font-size="9.6px" letter-spacing="0.4">&#947;</tspan><tspan dy="-3.0"> </tspan>=+0.066, &#955;<tspan dy="3.0" font-size="9.6px" letter-spacing="0.4">&#947;</tspan><tspan dy="-3.0"> </tspan>=−0.059</text>
<path d="M407.0,312.5 H445.1" fill="none" stroke="#ffa500" stroke-width="2.6" stroke-dasharray="1.38,1.38,1.38,1.38,1.38,1.38,1.38,2.76"/>
<text class="sy" transform="translate(398.9,317.2) scale(1,1.140)" text-anchor="end"><tspan letter-spacing="0.5">&#948;</tspan><tspan font-size="14.8px" letter-spacing="0.9">&#954;</tspan><tspan dy="3.0" font-size="9.6px" letter-spacing="0.4">&#947;</tspan><tspan dy="-3.0"> </tspan>=−0.072, &#955;<tspan dy="3.0" font-size="9.6px" letter-spacing="0.4">&#947;</tspan><tspan dy="-3.0"> </tspan>=−0.059</text>
</svg></body></html>
